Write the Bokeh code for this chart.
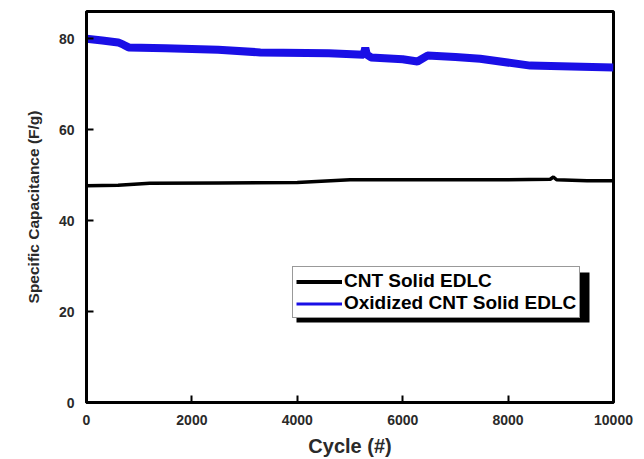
from bokeh.plotting import figure
from bokeh.models import Legend, LegendItem, Range1d, FixedTicker, BoxAnnotation
from bokeh.embed import file_html
from bokeh.resources import INLINE

# Data
cnt_cycles = [0, 600, 1200, 2500, 4000, 5000, 6500, 8000, 8800, 8860, 8920, 9500, 10000]
cnt_cap = [47.7, 47.8, 48.2, 48.3, 48.4, 49.0, 49.0, 49.0, 49.1, 49.6, 49.0, 48.8, 48.8]

ox_cycles = [0, 300, 600, 700, 800, 1500, 2500, 3300, 4600, 5260, 5290, 5320, 5400, 6000, 6280,
             6470, 7000, 7470, 8420, 9200, 10000]
ox_cap = [80.0, 79.6, 79.2, 78.7, 78.1, 77.9, 77.6, 77.0, 76.8, 76.5, 78.0, 76.5, 75.9, 75.5, 75.0,
          76.3, 76.0, 75.6, 74.1, 73.9, 73.7]

x_ticks = [0, 2000, 4000, 6000, 8000, 10000]
y_ticks = [0, 20, 40, 60, 80]

FONT = "Liberation Sans"

p = figure(width=644, height=459, output_backend="svg", toolbar_location=None,
           x_range=Range1d(0, 10000), y_range=Range1d(0, 86),
           min_border_left=86, min_border_right=31, min_border_top=11, min_border_bottom=57)

p.grid.visible = False
p.outline_line_color = "black"
p.outline_line_width = 3
p.background_fill_color = "white"
p.border_fill_color = "white"

for ax in (p.xaxis[0], p.yaxis[0]):
    ax.axis_line_width = 3
    ax.axis_line_color = "black"
    ax.major_tick_in = 7
    ax.major_tick_out = 0
    ax.major_tick_line_width = 2
    ax.minor_tick_line_color = None
    ax.major_label_text_font = FONT
    ax.major_label_text_font_style = "bold"
    ax.major_label_text_font_size = "14px"
    ax.major_label_text_color = "#2a2a2a"
    ax.axis_label_text_font = FONT
    ax.axis_label_text_font_style = "bold"
    ax.axis_label_text_color = "#2a2a2a"

p.xaxis.ticker = FixedTicker(ticks=x_ticks)
p.yaxis.ticker = FixedTicker(ticks=y_ticks)
p.xaxis.axis_label = "Cycle (#)"
p.yaxis.axis_label = "Specific Capacitance (F/g)"
p.xaxis.axis_label_text_font_size = "20px"
p.yaxis.axis_label_text_font_size = "15.5px"
p.xaxis.major_label_standoff = 12
p.xaxis.axis_label_standoff = 7
p.yaxis.major_label_standoff = 12
p.yaxis.axis_label_standoff = 14

r_ox = p.line(ox_cycles, ox_cap, line_color="#1a0fe6", line_width=8)
r_cnt = p.line(cnt_cycles, cnt_cap, line_color="black", line_width=3.5)

# legend-only swatches (thinner, as in the original); single-point lines draw nothing in the plot
leg_cnt = p.line(cnt_cycles[:1], cnt_cap[:1], line_color="black", line_width=4)
leg_ox = p.line(ox_cycles[:1], ox_cap[:1], line_color="#1a0fe6", line_width=3)

# legend shadow
shadow = BoxAnnotation(left=210, right=503, bottom=80, top=130,
                       left_units="screen", right_units="screen",
                       bottom_units="screen", top_units="screen",
                       fill_color="black", fill_alpha=1, line_color=None)
p.add_layout(shadow)

legend = Legend(items=[LegendItem(label="CNT Solid EDLC", renderers=[leg_cnt]),
                       LegendItem(label="Oxidized CNT Solid EDLC", renderers=[leg_ox])],
                location=(206, 84))
legend.label_text_font = FONT
legend.label_text_font_style = "bold"
legend.label_text_font_size = "19px"
legend.label_text_color = "black"
legend.border_line_color = "#333333"
legend.border_line_width = 1.5
legend.background_fill_alpha = 1
legend.padding = 3
legend.spacing = 0
legend.margin = 0
legend.glyph_width = 46
legend.glyph_height = 21
legend.label_height = 21
legend.label_standoff = 2
p.add_layout(legend, "center")

open("out.html", "w").write(file_html(p, INLINE))
